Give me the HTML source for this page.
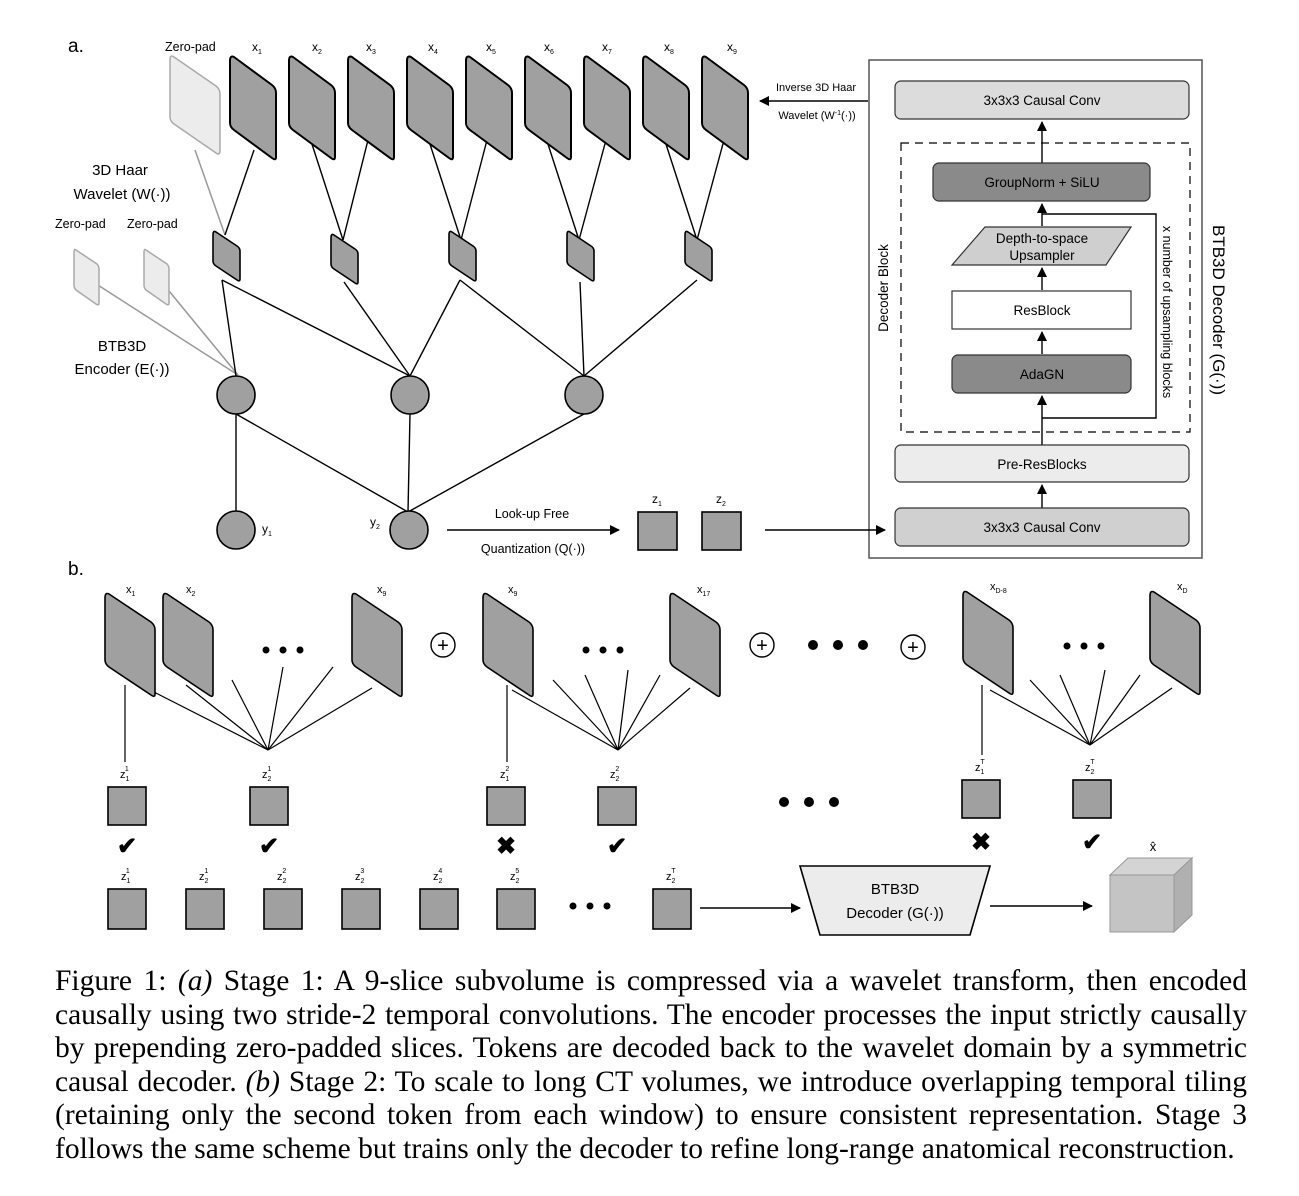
<!DOCTYPE html>
<html><head><meta charset="utf-8"><style>
body{margin:0;background:#fff;width:1299px;height:1196px;overflow:hidden}
svg{position:absolute;left:0;top:0}
.cap{position:absolute;left:55px;top:965px;width:1192px;font-family:"Liberation Serif",serif;font-size:29.5px;line-height:33.6px;color:#000}
.cap p{margin:0;text-align:justify;text-align-last:justify;white-space:nowrap}
.cap p.last{text-align-last:left}
</style></head><body>
<svg width="1299" height="960" viewBox="0 0 1299 960" font-family="Liberation Sans, sans-serif">
<defs>
<marker id="ah" markerWidth="10" markerHeight="10" refX="9" refY="5" orient="auto" markerUnits="userSpaceOnUse"><path d="M0,0 L10,5 L0,10 Z" fill="#000"/></marker>
<g id="sa"><path d="M4,0 L42,28 Q46,31 46,36 L46,100 Q46,104 42,101 L4,73 Q0,70 0,66 L0,4 Q0,-2 4,0 Z" fill="#a0a0a0" stroke="#000" stroke-width="2"/></g>
<g id="sm"><path d="M3,0 L24,14 Q27,16 27,19 L27,47 Q27,50 24,48 L3,34 Q0,32 0,29 L0,3 Q0,-2 3,0 Z" fill="#a0a0a0" stroke="#000" stroke-width="1.6"/></g>
<g id="sb"><path d="M4,0 L46,28 Q50,31 50,36 L50,100 Q50,104 46,101 L4,73 Q0,70 0,66 L0,4 Q0,-2 4,0 Z" fill="#a0a0a0" stroke="#000" stroke-width="1.6"/></g>
</defs>
<g font-size="17"><text x="68" y="52" font-size="19">a.</text><text x="68" y="575" font-size="19">b.</text></g>
<g stroke="#999" stroke-width="1.5" fill="none">
<line x1="195" y1="150" x2="225" y2="235"/>
<line x1="90" y1="280" x2="238" y2="375"/>
<line x1="160" y1="280" x2="238" y2="375"/>
</g>
<g stroke="#000" stroke-width="1.4" fill="none">
<line x1="254" y1="150" x2="225" y2="235"/><line x1="310" y1="138" x2="343" y2="240"/><line x1="368" y1="140" x2="343" y2="240"/>
<line x1="428" y1="138" x2="461" y2="240"/><line x1="487" y1="140" x2="461" y2="240"/>
<line x1="546" y1="138" x2="579" y2="240"/><line x1="606" y1="140" x2="579" y2="240"/>
<line x1="664" y1="138" x2="697" y2="240"/><line x1="724" y1="140" x2="697" y2="240"/>
<line x1="222" y1="280" x2="236" y2="376"/><line x1="222" y1="280" x2="410" y2="376"/>
<line x1="344" y1="282" x2="410" y2="376"/><line x1="460" y1="280" x2="410" y2="376"/>
<line x1="460" y1="280" x2="584" y2="376"/><line x1="580" y1="282" x2="584" y2="376"/><line x1="697" y1="280" x2="584" y2="376"/>
<line x1="236" y1="414" x2="236" y2="512"/><line x1="236" y1="414" x2="408" y2="512"/>
<line x1="410" y1="414" x2="408" y2="512"/><line x1="584" y1="414" x2="408" y2="512"/>
</g>
<path d="M174,57 L216,86 Q220,89 220,94 L220,150 Q220,156 216,153 L174,124 Q170,121 170,117 L170,60 Q170,54 174,57 Z" fill="#ececec" stroke="#aaa" stroke-width="1.5"/>
<path d="M76,250 L97,264 Q99,266 99,269 L99,303 Q99,306 96,304 L76,290 Q74,288 74,285 L74,253 Q74,248 76,250Z" fill="#ececec" stroke="#aaa" stroke-width="1.5"/>
<path d="M146,250 L167,264 Q169,266 169,269 L169,303 Q169,306 166,304 L146,290 Q144,288 144,285 L144,253 Q144,248 146,250Z" fill="#ececec" stroke="#aaa" stroke-width="1.5"/>
<g font-size="12.5"><text x="165" y="51">Zero-pad</text><text x="55" y="228">Zero-pad</text><text x="127" y="228">Zero-pad</text></g>
<g font-size="15" text-anchor="middle"><text x="120" y="175">3D Haar</text><text x="122" y="199">Wavelet (W(·))</text><text x="122" y="351">BTB3D</text><text x="122" y="374">Encoder (E(·))</text></g>
<use href="#sa" x="230" y="57"/><use href="#sa" x="289" y="57"/><use href="#sa" x="348" y="57"/><use href="#sa" x="407" y="57"/><use href="#sa" x="466" y="57"/><use href="#sa" x="525" y="57"/><use href="#sa" x="584" y="57"/><use href="#sa" x="643" y="57"/><use href="#sa" x="702" y="57"/>
<g font-size="12"><text x="252" y="51">x<tspan font-size="7" dy="3">1</tspan></text><text x="312" y="51">x<tspan font-size="7" dy="3">2</tspan></text><text x="366" y="51">x<tspan font-size="7" dy="3">3</tspan></text><text x="428" y="51">x<tspan font-size="7" dy="3">4</tspan></text><text x="486" y="51">x<tspan font-size="7" dy="3">5</tspan></text><text x="544" y="51">x<tspan font-size="7" dy="3">6</tspan></text><text x="602" y="51">x<tspan font-size="7" dy="3">7</tspan></text><text x="664" y="51">x<tspan font-size="7" dy="3">8</tspan></text><text x="727" y="51">x<tspan font-size="7" dy="3">9</tspan></text></g>
<use href="#sm" x="213" y="232"/><use href="#sm" x="331" y="235"/><use href="#sm" x="449" y="232"/><use href="#sm" x="567" y="232"/><use href="#sm" x="685" y="232"/>
<g fill="#a0a0a0" stroke="#000" stroke-width="1.6"><circle cx="236" cy="395" r="19"/><circle cx="410" cy="395" r="19"/><circle cx="584" cy="395" r="19"/><circle cx="236" cy="530" r="19"/><circle cx="409" cy="530" r="19"/></g>
<g font-size="12"><text x="262" y="533">y<tspan font-size="7" dy="3">1</tspan></text><text x="370" y="526">y<tspan font-size="7" dy="3">2</tspan></text></g>
<line x1="447" y1="530" x2="619" y2="530" stroke="#000" stroke-width="1.4" marker-end="url(#ah)"/>
<g font-size="12.5" text-anchor="middle"><text x="532" y="518">Look-up Free</text><text x="533" y="553">Quantization (Q(·))</text></g>
<rect x="638" y="512" width="39" height="38" fill="#a0a0a0" stroke="#000" stroke-width="1.6"/><rect x="702" y="512" width="39" height="38" fill="#a0a0a0" stroke="#000" stroke-width="1.6"/>
<g font-size="12"><text x="652" y="503">z<tspan font-size="7" dy="3">1</tspan></text><text x="716" y="503">z<tspan font-size="7" dy="3">2</tspan></text></g>
<rect x="869" y="60" width="333" height="498" fill="#fff" stroke="#555" stroke-width="1.5"/>
<line x1="765" y1="530" x2="885" y2="530" stroke="#000" stroke-width="1.4" marker-end="url(#ah)"/>
<line x1="868" y1="101" x2="760" y2="101" stroke="#000" stroke-width="1.4" marker-end="url(#ah)"/>
<g font-size="11" text-anchor="middle"><text x="816" y="91">Inverse 3D Haar</text><text x="817" y="119">Wavelet (W<tspan font-size="7" dy="-4">-1</tspan><tspan dy="4">(·))</tspan></text></g>
<rect x="901" y="143" width="289" height="289" fill="none" stroke="#000" stroke-width="1.2" stroke-dasharray="8,6"/>
<g stroke="#000" stroke-width="1.4" fill="none">
<line x1="1042" y1="163" x2="1042" y2="122" marker-end="url(#ah)"/>
<line x1="1042" y1="226" x2="1042" y2="204" marker-end="url(#ah)"/>
<line x1="1042" y1="290" x2="1042" y2="268" marker-end="url(#ah)"/>
<line x1="1042" y1="354" x2="1042" y2="332" marker-end="url(#ah)"/>
<line x1="1042" y1="445" x2="1042" y2="396" marker-end="url(#ah)"/>
<line x1="1042" y1="508" x2="1042" y2="485" marker-end="url(#ah)"/>
<polyline points="1042,418 1156,418 1156,214 1042,214"/>
</g>
<g stroke="#333" stroke-width="1.2">
<rect x="895" y="81" width="294" height="38" rx="6" fill="#dcdcdc"/>
<rect x="933" y="163" width="217" height="38" rx="6" fill="#8a8a8a"/>
<path d="M985,227 L1131,227 L1106,265 L952,265 Z" fill="#cfcfcf"/>
<rect x="952" y="291" width="179" height="38" fill="#fff"/>
<rect x="952" y="355" width="179" height="38" rx="6" fill="#8a8a8a"/>
<rect x="895" y="445" width="294" height="37" rx="6" fill="#ececec"/>
<rect x="895" y="508" width="294" height="38" rx="6" fill="#d0d0d0"/>
</g>
<g font-size="13.5" text-anchor="middle"><text x="1042" y="105">3x3x3 Causal Conv</text><text x="1042" y="187">GroupNorm + SiLU</text><text x="1042" y="243">Depth-to-space</text><text x="1042" y="260">Upsampler</text><text x="1042" y="315">ResBlock</text><text x="1042" y="379">AdaGN</text><text x="1042" y="469">Pre-ResBlocks</text><text x="1042" y="532">3x3x3 Causal Conv</text></g>
<text transform="translate(888,288) rotate(-90)" font-size="13.5" text-anchor="middle">Decoder Block</text>
<text transform="translate(1163,312) rotate(90)" font-size="12.5" text-anchor="middle">x number of upsampling blocks</text>
<text transform="translate(1213,310) rotate(90)" font-size="17" text-anchor="middle">BTB3D Decoder (G(·))</text>
<g stroke="#000" stroke-width="1.2" fill="none">
<line x1="125" y1="685" x2="125" y2="762"/><line x1="150" y1="690" x2="268" y2="750"/><line x1="186" y1="685" x2="268" y2="750"/><line x1="232" y1="680" x2="268" y2="750"/><line x1="283" y1="667" x2="268" y2="750"/><line x1="333" y1="667" x2="268" y2="750"/><line x1="372" y1="688" x2="268" y2="750"/>
<line x1="507" y1="685" x2="507" y2="762"/><line x1="512" y1="690" x2="618" y2="750"/><line x1="553" y1="680" x2="618" y2="750"/><line x1="585" y1="675" x2="618" y2="750"/><line x1="628" y1="670" x2="618" y2="750"/><line x1="660" y1="675" x2="618" y2="750"/><line x1="690" y1="688" x2="618" y2="750"/>
<line x1="982" y1="685" x2="982" y2="755"/><line x1="990" y1="690" x2="1090" y2="745"/><line x1="1030" y1="680" x2="1090" y2="745"/><line x1="1060" y1="675" x2="1090" y2="745"/><line x1="1105" y1="670" x2="1090" y2="745"/><line x1="1140" y1="675" x2="1090" y2="745"/><line x1="1172" y1="688" x2="1090" y2="745"/>
</g>
<use href="#sb" x="105" y="594"/><use href="#sb" x="163" y="594"/><use href="#sb" x="352" y="594"/>
<use href="#sb" x="483" y="594"/><use href="#sb" x="670" y="594"/>
<use href="#sb" x="963" y="592"/><use href="#sb" x="1150" y="592"/>
<g font-size="11"><text x="126" y="593">x<tspan font-size="7" dy="3">1</tspan></text><text x="186" y="593">x<tspan font-size="7" dy="3">2</tspan></text><text x="377" y="593">x<tspan font-size="7" dy="3">9</tspan></text><text x="508" y="593">x<tspan font-size="7" dy="3">9</tspan></text><text x="697" y="593">x<tspan font-size="7" dy="3">17</tspan></text><text x="990" y="590">x<tspan font-size="7" dy="3">D-8</tspan></text><text x="1177" y="590">x<tspan font-size="7" dy="3">D</tspan></text></g>
<g fill="#000"><circle cx="266" cy="650" r="3.5"/><circle cx="283" cy="650" r="3.5"/><circle cx="300" cy="650" r="3.5"/>
<circle cx="586" cy="650" r="3.5"/><circle cx="603" cy="650" r="3.5"/><circle cx="620" cy="650" r="3.5"/>
<circle cx="1067" cy="646" r="3.5"/><circle cx="1084" cy="646" r="3.5"/><circle cx="1101" cy="646" r="3.5"/>
<circle cx="813" cy="645" r="5"/><circle cx="838" cy="645" r="5"/><circle cx="863" cy="645" r="5"/>
<circle cx="784" cy="802" r="5"/><circle cx="809" cy="802" r="5"/><circle cx="834" cy="802" r="5"/>
<circle cx="573" cy="906" r="3.5"/><circle cx="590" cy="906" r="3.5"/><circle cx="607" cy="906" r="3.5"/></g>
<g fill="#fff" stroke="#000" stroke-width="1.4"><circle cx="443" cy="645" r="12"/><circle cx="762" cy="645" r="12"/><circle cx="913" cy="647" r="12"/></g>
<g font-size="20" text-anchor="middle"><text x="443" y="652">+</text><text x="762" y="652">+</text><text x="913" y="654">+</text></g>
<g fill="#a0a0a0" stroke="#000" stroke-width="1.6">
<rect x="108" y="787" width="38" height="38"/><rect x="250" y="787" width="38" height="38"/><rect x="487" y="787" width="38" height="38"/><rect x="598" y="787" width="38" height="38"/><rect x="962" y="780" width="38" height="38"/><rect x="1073" y="780" width="38" height="38"/>
<rect x="108" y="889" width="38" height="40"/><rect x="186" y="889" width="38" height="40"/><rect x="264" y="889" width="38" height="40"/><rect x="342" y="889" width="38" height="40"/><rect x="420" y="889" width="38" height="40"/><rect x="497" y="889" width="38" height="40"/><rect x="653" y="889" width="38" height="40"/>
</g>
<g font-size="11"><text x="120" y="778">z<tspan font-size="7" dy="3">1</tspan><tspan font-size="7" dx="-4" dy="-10">1</tspan></text>
<text x="262" y="778">z<tspan font-size="7" dy="3">2</tspan><tspan font-size="7" dx="-4" dy="-10">1</tspan></text>
<text x="500" y="778">z<tspan font-size="7" dy="3">1</tspan><tspan font-size="7" dx="-4" dy="-10">2</tspan></text>
<text x="610" y="778">z<tspan font-size="7" dy="3">2</tspan><tspan font-size="7" dx="-4" dy="-10">2</tspan></text>
<text x="975" y="771">z<tspan font-size="7" dy="3">1</tspan><tspan font-size="7" dx="-4" dy="-10">T</tspan></text>
<text x="1085" y="771">z<tspan font-size="7" dy="3">2</tspan><tspan font-size="7" dx="-4" dy="-10">T</tspan></text>
<text x="121" y="880">z<tspan font-size="7" dy="3">1</tspan><tspan font-size="7" dx="-4" dy="-10">1</tspan></text>
<text x="199" y="880">z<tspan font-size="7" dy="3">2</tspan><tspan font-size="7" dx="-4" dy="-10">1</tspan></text>
<text x="277" y="880">z<tspan font-size="7" dy="3">2</tspan><tspan font-size="7" dx="-4" dy="-10">2</tspan></text>
<text x="355" y="880">z<tspan font-size="7" dy="3">2</tspan><tspan font-size="7" dx="-4" dy="-10">3</tspan></text>
<text x="433" y="880">z<tspan font-size="7" dy="3">2</tspan><tspan font-size="7" dx="-4" dy="-10">4</tspan></text>
<text x="510" y="880">z<tspan font-size="7" dy="3">2</tspan><tspan font-size="7" dx="-4" dy="-10">5</tspan></text>
<text x="666" y="880">z<tspan font-size="7" dy="3">2</tspan><tspan font-size="7" dx="-4" dy="-10">T</tspan></text></g>
<g font-size="24" font-weight="bold" text-anchor="middle"><text x="127" y="854">✔</text><text x="269" y="854">✔</text><text x="506" y="854">✖</text><text x="617" y="854">✔</text><text x="981" y="850">✖</text><text x="1092" y="850">✔</text></g>
<line x1="700" y1="908" x2="800" y2="908" stroke="#000" stroke-width="1.4" marker-end="url(#ah)"/>
<path d="M800,866 L990,866 L970,935 L820,935 Z" fill="#ececec" stroke="#000" stroke-width="1.6"/>
<g font-size="15" text-anchor="middle"><text x="895" y="894">BTB3D</text><text x="895" y="918">Decoder (G(·))</text></g>
<line x1="990" y1="906" x2="1092" y2="906" stroke="#000" stroke-width="1.4" marker-end="url(#ah)"/>
<g stroke="#999" stroke-width="1"><path d="M1110,875 L1128,858 L1192,858 L1174,875 Z" fill="#d4d4d4"/><path d="M1174,875 L1192,858 L1192,915 L1174,932 Z" fill="#b0b0b0"/><rect x="1110" y="875" width="64" height="57" fill="#c4c4c4"/></g>
<text x="1153" y="851" font-size="13" text-anchor="middle">x̂</text>
</svg>
<div class="cap">
<p>Figure 1: <i>(a)</i> Stage 1: A 9-slice subvolume is compressed via a wavelet transform, then encoded</p>
<p>causally using two stride-2 temporal convolutions. The encoder processes the input strictly causally</p>
<p>by prepending zero-padded slices. Tokens are decoded back to the wavelet domain by a symmetric</p>
<p>causal decoder. <i>(b)</i> Stage 2: To scale to long CT volumes, we introduce overlapping temporal tiling</p>
<p>(retaining only the second token from each window) to ensure consistent representation. Stage 3</p>
<p class="last">follows the same scheme but trains only the decoder to refine long-range anatomical reconstruction.</p>
</div>
</body></html>
